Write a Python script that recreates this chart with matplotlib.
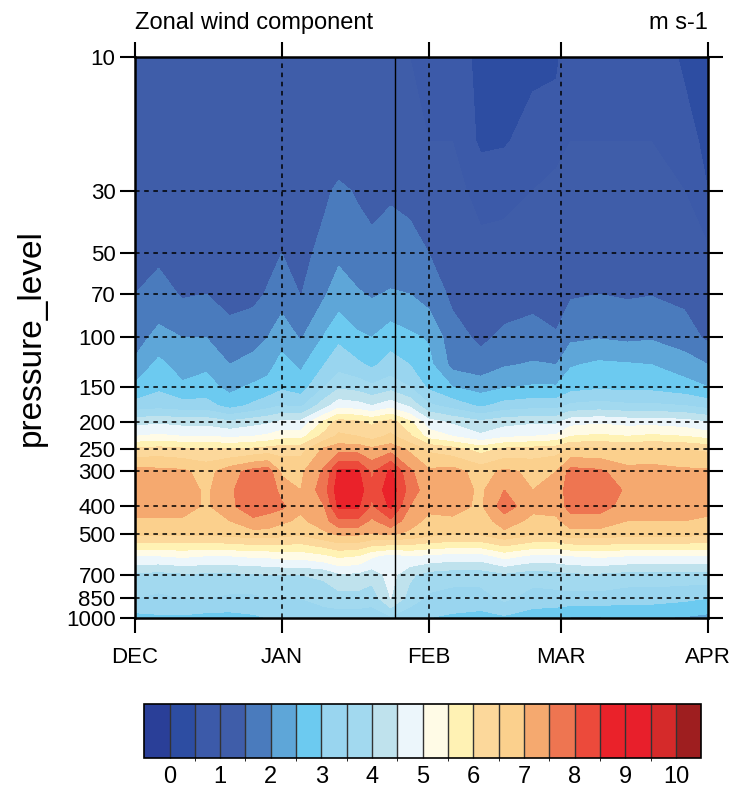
import numpy as np
import matplotlib
matplotlib.use('Agg')
import matplotlib.pyplot as plt
from matplotlib.colors import ListedColormap, BoundaryNorm
from matplotlib.ticker import NullLocator

plt.rcParams['font.family'] = ['Liberation Sans', 'DejaVu Sans']

# days since 1 Dec
days = [0, 5, 10, 15, 20, 25, 28, 31, 35, 40, 43, 47, 50, 54, 58, 62, 67, 73, 78, 84, 89, 92, 98, 104, 109, 116, 121]
levels_hpa = [10, 20, 30, 50, 70, 100, 125, 150, 175, 200, 225, 250, 300, 350, 400, 450, 500, 600, 700, 850, 1000]

# zonal wind (m s-1), one row per pressure level
u10 = [1.0, 1.0, 1.0, 1.0, 1.0, 1.0, 1.0, 1.0, 1.0, 1.1, 1.1, 1.1, 1.0, 1.0, 1.0, 1.0, 0.9, 0.3, 0.3, 0.4, 0.4, 0.9, 1.0, 1.0, 0.9, 0.4, 0.2]
u20 = [1.1, 1.1, 1.1, 1.1, 1.1, 1.1, 1.1, 1.1, 1.1, 1.2, 1.2, 1.2, 1.1, 1.1, 1.1, 1.0, 1.0, 0.4, 0.45, 0.7, 0.9, 1.0, 1.0, 1.0, 1.0, 0.8, 0.3]
u30 = [1.2, 1.2, 1.2, 1.2, 1.2, 1.2, 1.2, 1.3, 1.2, 1.4, 1.6, 1.45, 1.4, 1.45, 1.4, 1.3, 1.1, 0.9, 0.9, 1.0, 1.1, 1.1, 1.1, 1.1, 1.1, 1.0, 0.5]
u50 = [1.25, 1.4, 1.25, 1.25, 1.2, 1.2, 1.35, 1.5, 1.3, 1.7, 1.9, 1.75, 1.6, 1.7, 1.65, 1.5, 1.3, 1.1, 1.15, 1.2, 1.2, 1.25, 1.3, 1.3, 1.3, 1.25, 1.1]
u70 = [1.5, 1.7, 1.45, 1.5, 1.25, 1.35, 1.55, 1.8, 1.48, 1.95, 2.25, 2.05, 1.95, 2.05, 2.0, 1.8, 1.4, 1.2, 1.3, 1.35, 1.3, 1.45, 1.5, 1.45, 1.48, 1.38, 1.2]
u100 = [1.8, 2.15, 2.0, 2.0, 1.8, 1.9, 2.0, 2.3, 1.95, 2.55, 2.9, 2.6, 2.5, 2.8, 2.6, 2.45, 1.7, 1.4, 1.6, 1.7, 1.55, 1.9, 1.97, 1.9, 1.95, 1.75, 1.4]
u125 = [2.1, 2.65, 2.25, 2.4, 2.0, 2.1, 2.3, 2.7, 2.4, 3.0, 3.3, 3.1, 2.9, 3.2, 3.0, 2.65, 1.85, 1.7, 1.95, 2.05, 2.0, 2.45, 2.6, 2.55, 2.5, 2.25, 2.0]
u150 = [2.6, 2.9, 2.6, 2.7, 2.35, 2.6, 2.7, 2.9, 2.75, 3.5, 3.9, 3.8, 3.6, 3.8, 3.5, 2.9, 2.5, 2.3, 2.45, 2.55, 2.55, 2.8, 2.9, 2.85, 2.85, 2.7, 2.5]
u175 = [3.2, 3.3, 3.2, 3.2, 2.8, 3.1, 3.3, 3.5, 3.4, 4.3, 4.8, 4.7, 4.5, 4.8, 4.4, 3.6, 3.3, 2.9, 3.2, 3.3, 3.3, 3.6, 3.7, 3.6, 3.6, 3.5, 3.3]
u200 = [4.3, 4.4, 4.3, 4.3, 4.1, 4.3, 4.4, 4.6, 4.6, 5.6, 6.2, 6.1, 5.9, 6.2, 5.6, 4.7, 4.4, 4.1, 4.3, 4.4, 4.4, 4.8, 4.9, 4.8, 4.8, 4.7, 4.5]
u225 = [5.0, 5.1, 5.0, 5.0, 4.9, 5.0, 5.1, 5.3, 5.3, 6.2, 6.6, 6.5, 6.3, 6.6, 6.1, 5.3, 5.0, 4.6, 4.9, 5.0, 5.1, 5.5, 5.6, 5.5, 5.6, 5.5, 5.3]
u250 = [6.1, 6.2, 6.1, 6.1, 6.0, 6.1, 6.2, 6.3, 6.3, 7.1, 7.3, 7.3, 7.1, 7.3, 6.9, 6.4, 6.2, 5.8, 6.1, 6.2, 6.3, 6.6, 6.6, 6.5, 6.6, 6.5, 6.4]
u300 = [7.2, 7.15, 7.1, 6.8, 7.3, 7.7, 7.8, 6.9, 6.9, 7.6, 8.6, 8.6, 7.9, 8.6, 7.6, 7.1, 7.2, 6.8, 7.1, 6.9, 7.0, 7.7, 7.6, 7.2, 7.2, 7.1, 7.1]
u350 = [7.4, 7.35, 7.3, 6.9, 7.4, 7.9, 7.9, 7.3, 7.0, 7.8, 8.8, 8.8, 8.1, 8.8, 7.8, 7.2, 7.3, 6.9, 7.5, 7.0, 7.1, 7.9, 7.9, 7.4, 7.4, 7.3, 7.3]
u400 = [7.3, 7.3, 7.3, 6.9, 7.4, 7.8, 7.7, 7.6, 7.1, 7.5, 8.6, 8.6, 7.9, 8.6, 7.5, 7.1, 7.2, 6.9, 7.8, 7.1, 7.2, 7.7, 7.7, 7.3, 7.3, 7.3, 7.2]
u450 = [6.9, 6.9, 6.9, 6.8, 7.0, 7.4, 7.3, 7.1, 6.9, 7.3, 7.9, 7.9, 7.4, 7.9, 7.2, 6.9, 6.9, 6.8, 7.2, 6.9, 6.9, 7.3, 7.3, 7.0, 7.0, 7.0, 6.9]
u500 = [6.6, 6.6, 6.6, 6.6, 6.7, 6.8, 6.8, 6.7, 6.6, 6.9, 7.1, 7.1, 7.0, 7.1, 6.9, 6.7, 6.6, 6.6, 6.9, 6.6, 6.6, 6.8, 6.8, 6.7, 6.7, 6.7, 6.6]
u600 = [5.0, 5.0, 5.1, 5.0, 5.0, 5.1, 5.1, 5.2, 5.2, 5.4, 5.6, 5.5, 5.1, 4.8, 5.0, 4.9, 4.8, 4.8, 5.2, 4.9, 4.9, 5.0, 5.1, 5.0, 5.0, 5.0, 5.0]
u700 = [3.9, 3.8, 3.9, 3.9, 3.9, 3.9, 4.0, 4.0, 4.0, 4.1, 4.4, 4.4, 4.2, 4.7, 4.1, 3.8, 3.7, 3.7, 3.9, 3.7, 3.8, 3.9, 3.9, 3.8, 3.8, 3.8, 3.8]
u850 = [3.5, 3.4, 3.5, 3.5, 3.4, 3.4, 3.5, 3.5, 3.5, 3.7, 3.8, 3.8, 3.7, 4.5, 3.8, 3.4, 3.3, 3.3, 3.6, 3.3, 3.3, 3.3, 3.3, 3.2, 3.2, 3.1, 3.0]
u1000 = [2.8, 2.9, 2.9, 2.8, 2.8, 2.9, 3.0, 3.0, 3.0, 3.2, 3.2, 3.2, 3.2, 3.4, 3.1, 3.0, 2.9, 2.8, 2.9, 2.7, 2.6, 2.45, 2.45, 2.5, 2.5, 2.45, 2.35]

month_days = [0, 31, 62, 90, 121]
month_names = ['DEC', 'JAN', 'FEB', 'MAR', 'APR']
yticks = [10, 30, 50, 70, 100, 150, 200, 250, 300, 400, 500, 700, 850, 1000]
marked_day = 55

colors = ['#2a3f98', '#2d4da2', '#3c5aa9', '#3f5da9', '#4a7bbd', '#5ea6d8', '#6ccaf0',
          '#99d5ef', '#a2d9ef', '#bfe2ed', '#ecf6fb', '#fffbe6', '#fff2b4', '#fcd89b',
          '#fbd08d', '#f5a96f', '#ee7551', '#ec4a3b', '#ea222a', '#e81f2b', '#d52a2a', '#9e1e1f']
clevs = np.arange(0, 10.01, 0.5)

U = np.array([u10, u20, u30, u50, u70, u100, u125, u150, u175, u200, u225, u250,
              u300, u350, u400, u450, u500, u600, u700, u850, u1000])

fig = plt.figure(figsize=(7.32, 7.91), dpi=100)
ax = fig.add_axes([0.1844, 0.2187, 0.7828, 0.7093])

cmap = ListedColormap(colors)
norm = BoundaryNorm(clevs, ncolors=len(colors), extend='both')
cs = ax.contourf(days, levels_hpa, U, levels=clevs, cmap=cmap, norm=norm, extend='both')

ax.set_yscale('log')
ax.set_ylim(1000, 10)
ax.set_xlim(0, 121)
ax.yaxis.set_minor_locator(NullLocator())
ax.set_yticks(yticks)
ax.set_yticklabels([str(v) for v in yticks])
ax.set_xticks(month_days)
ax.set_xticklabels(month_names)

for v in yticks[1:-1]:
    ax.axhline(v, color='black', lw=1.1, ls=(0, (3, 3)))
for d in month_days[1:-1]:
    ax.axvline(d, color='black', lw=1.1, ls=(0, (3, 3)))
ax.axvline(marked_day, color='black', lw=1.0)

for s in ax.spines.values():
    s.set_linewidth(1.8)
ax.tick_params(direction='out', length=11, width=1.5, top=True, right=True,
               labelsize=16)
ax.tick_params(axis='x', pad=10)
ax.tick_params(axis='y', pad=3)

ax.set_title('Zonal wind component', loc='left', fontsize=17, pad=20)
ax.set_title('m s-1', loc='right', fontsize=17, pad=20)
ax.set_ylabel('pressure_level', fontsize=24, labelpad=14)

cax = fig.add_axes([0.197, 0.042, 0.761, 0.068])
cb = fig.colorbar(cs, cax=cax, orientation='horizontal', ticks=range(11),
                  drawedges=True, extendrect=True, extendfrac='auto')
cb.outline.set_linewidth(1.2)
cb.dividers.set_linewidth(1.0)
cb.dividers.set_color('#333333')
cax.tick_params(length=0, labelsize=17, pad=6)

fig.savefig('out.png', dpi=100)
